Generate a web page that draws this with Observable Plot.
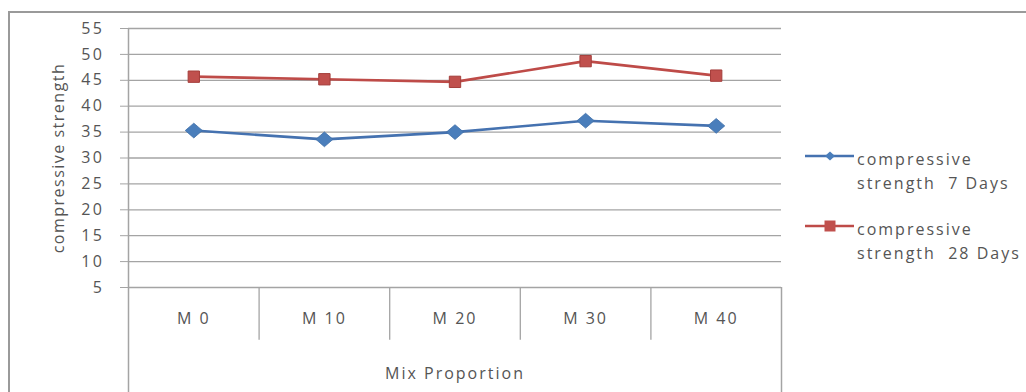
<!DOCTYPE html>
<html>
<head>
<meta charset="utf-8">
<script src="https://cdn.jsdelivr.net/npm/d3@7"></script>
<script src="https://cdn.jsdelivr.net/npm/@observablehq/plot@0.6"></script>
<style>
  html, body { margin: 0; padding: 0; background: #fff; }
  #wrap { position: relative; width: 1026px; height: 392px; overflow: hidden; font-family: "Open Sans", sans-serif; }
  #frame { position: absolute; left: 8px; top: 11px; width: 1100px; height: 500px; border-left: 2px solid #9a9a9a; border-top: 2px solid #9a9a9a; pointer-events: none; }
  .leg { position: absolute; font-size: 16px; letter-spacing: 2px; color: #555; line-height: 24px; white-space: nowrap; }
  .legsym { position: absolute; }
</style>
</head>
<body>
<div id="wrap"><div id="frame"></div></div>
<script>
const categories = ["M 0", "M 10", "M 20", "M 30", "M 40"];
const days7 = [35.3, 33.6, 35.0, 37.2, 36.2];
const days28 = [45.7, 45.2, 44.7, 48.7, 45.9];
const yTicks = [5, 10, 15, 20, 25, 30, 35, 40, 45, 50, 55];
const seriesNames = ["compressive strength  7 Days", "compressive strength  28 Days"];
const seriesColors = ["#4572B0", "#BE4B48"];
const yLabel = "compressive strength";
const xLabel = "Mix Proportion";

const rows = [];
categories.forEach((c, i) => {
  rows.push({i, cat: c, series: seriesNames[0], value: days7[i]});
  rows.push({i, cat: c, series: seriesNames[1], value: days28[i]});
});

const diamond = {
  draw(context, size) {
    const w = Math.sqrt(size / 2) * 1.1, h = Math.sqrt(size / 2) * 0.95;
    context.moveTo(0, -h); context.lineTo(w, 0); context.lineTo(0, h); context.lineTo(-w, 0); context.closePath();
  }
};
const square = {
  draw(context, size) {
    const s = Math.sqrt(size) / 2;
    context.rect(-s, -s, 2 * s, 2 * s);
  }
};

const inner = d3.range(1, categories.length).map(k => k - 0.5);
const gridColor = "#a4a4a4";
const textColor = "#555555";

const chart = Plot.plot({
  width: 1026,
  height: 392,
  marginLeft: 128,
  marginRight: 245,
  marginTop: 28,
  marginBottom: 105,
  style: {fontFamily: "Open Sans, sans-serif", fontSize: "16px", color: textColor, background: "transparent"},
  x: {type: "linear", domain: [-0.5, categories.length - 0.5]},
  y: {type: "linear", domain: [5, 55]},
  marks: [
    Plot.ruleY(yTicks, {stroke: gridColor, strokeWidth: 1.3}),
    Plot.ruleX(inner, {y1: 5, y2: -5.2, stroke: gridColor, strokeWidth: 1.3}),
    Plot.ruleX([-0.5], {y1: 55, y2: -30, stroke: gridColor, strokeWidth: 1.5}),
    Plot.ruleX([categories.length - 0.5], {y1: 5, y2: -30, stroke: gridColor, strokeWidth: 1.5}),
    Plot.axisY({ticks: yTicks, tickSize: 8, tickPadding: 16, stroke: gridColor, fill: textColor,
      fontSize: 16, label: null}),
    Plot.axisX({ticks: d3.range(categories.length), tickSize: 0, tickPadding: 25,
      tickFormat: i => categories[i], fill: textColor, fontSize: 16, label: null}),
    Plot.text([yLabel], {frameAnchor: "left", rotate: -90, dx: -70, textAnchor: "middle", fontSize: 16, fill: textColor}),
    Plot.text([xLabel], {frameAnchor: "bottom", dy: 91, fontSize: 16, fill: textColor}),
    Plot.line(rows, {x: "i", y: "value", z: "series", stroke: "series", strokeWidth: 2.6}),
    Plot.dot(rows.filter(d => d.series === seriesNames[0]), {x: "i", y: "value", symbol: () => diamond, r: 6.2, fill: "#4A7EBB", stroke: "#3f6ea8", strokeWidth: 0.8}),
    Plot.dot(rows.filter(d => d.series === seriesNames[1]), {x: "i", y: "value", symbol: () => square, r: 6.4, fill: "#C0504D", stroke: "#a43e3b", strokeWidth: 1})
  ],
  color: {domain: seriesNames, range: seriesColors},
  symbol: {type: "identity"}
});
chart.style.position = "absolute";
chart.style.left = "0px";
chart.style.top = "0px";
// letter spacing to mimic the wide, stretched source type
chart.querySelectorAll('g[aria-label="y-axis tick label"]').forEach(g => g.setAttribute("letter-spacing", "2.5px"));
chart.querySelectorAll('g[aria-label="x-axis tick label"]').forEach(g => g.setAttribute("letter-spacing", "2px"));
chart.querySelectorAll('g[aria-label="text"] text').forEach(t => {
  t.setAttribute("letter-spacing", t.textContent === yLabel ? "1.5px" : "2px");
});
const wrap = document.getElementById("wrap");
wrap.insertBefore(chart, wrap.firstChild);

// legend (HTML overlay)
const legendY = [156, 226];
seriesNames.forEach((name, k) => {
  const sym = document.createElementNS("http://www.w3.org/2000/svg", "svg");
  sym.setAttribute("width", 54); sym.setAttribute("height", 16);
  sym.setAttribute("class", "legsym");
  sym.style.left = "803px"; sym.style.top = (legendY[k] - 8) + "px";
  const ln = document.createElementNS("http://www.w3.org/2000/svg", "line");
  ln.setAttribute("x1", 2); ln.setAttribute("x2", 51); ln.setAttribute("y1", 8); ln.setAttribute("y2", 8);
  ln.setAttribute("stroke", seriesColors[k]); ln.setAttribute("stroke-width", 2.6);
  sym.appendChild(ln);
  const p = document.createElementNS("http://www.w3.org/2000/svg", "path");
  p.setAttribute("d", k === 0 ? "M27,3.5L32,8L27,12.5L22,8Z" : "M21.5,2.5h11v11h-11Z");
  p.setAttribute("fill", k === 0 ? "#4A7EBB" : "#C0504D");
  sym.appendChild(p);
  wrap.appendChild(sym);
  const t = document.createElement("div");
  t.className = "leg";
  t.style.left = "857px"; t.style.top = (legendY[k] - 9) + "px";
  const parts = name.split("strength");
  t.innerHTML = "compressive<br>strength&nbsp; " + parts[1].trim();
  wrap.appendChild(t);
});
</script>
</body>
</html>
